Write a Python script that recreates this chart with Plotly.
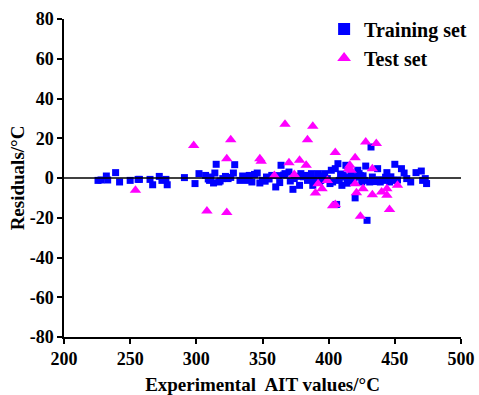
import plotly.graph_objects as go

train_x = [225.7, 228, 232, 233, 239, 242, 250, 256, 257, 265, 267, 272, 274, 277, 278,
           291, 299, 302, 307, 310, 313, 314, 315, 317, 320, 324, 328, 329, 333, 335,
           338, 340, 342, 346, 348, 350, 353, 357, 360, 363, 364, 367, 370, 373, 374,
           377, 378, 379, 382, 384, 387, 388, 392, 394, 397, 399, 401, 402, 405, 406,
           407, 408, 410, 412, 413, 415, 417, 418, 420, 421, 422, 423, 425, 427, 428,
           429, 431, 432, 433, 434, 437, 439, 441, 444, 446, 449, 450, 455, 457, 459,
           462, 466, 470, 471, 473, 474,
           311, 318, 326, 336, 344, 355, 362, 371, 381, 389, 396, 403, 411, 419, 426, 436, 443, 452,
           309, 322, 339, 352, 366, 385, 393, 409, 414, 424, 438, 447]
train_y = [-1.2, -1, 1, -1, 2.7, -2, -1.2, -0.7, -0.7, -0.7, -3.4, 0.8, -1.2, -0.7, -3.4,
           0.2, -2.8, 2.2, 1.3, -1.2, -2.5, 2.5, 6.9, -2, -0.3, -0.3, 2.5, 6.7, -1.2, 1,
           -1.2, 1.3, -2, 2.5, -2.5, -1.2, 0.5, 1.3, -4.5, -2.3, 6.4, 2.2, 3, -5.7, -0.3,
           0.8, -3.7, 2.2, 1.3, -1.2, 2.2, -3.7, 2.2, -1.2, 2.2, -0.3, -2.8, 3.9, 4.7, -13.3,
           7.2, -1.2, -3.7, 0.5, 6.4, -1.2, 2.2, -1.2, -10, 0.5, 3.9, 2.2, -2, -1.2, 6,
           -21.3, -2, 15.6, 0.5, -1.2, 4.7, -2, -1.2, 2.7, -2, -1.2, 6.9, 4.7, 2.5, -0.3,
           -2, 2.7, 3.5, -1.2, -0.3, -2.8,
           0.5, -1.5, 0.3, -0.8, 1.8, -0.5, 1.2, -1.5, 0.6, -0.8, 1.0, -2.0, 1.5, -0.6, 1.1, -1.8, 0.4, -1.0,
           -0.5, 0.8, 0.4, -1.6, 1.5, 0.9, -1.8, 2.0, -2.6, 1.2, -0.9, 0.6]

test_x = [254, 298, 308, 323, 323, 326, 348, 349, 359, 367, 370, 374, 378, 384, 383,
          388, 390, 392, 395, 399, 403, 405, 405, 415, 416, 417, 420, 420, 421, 424,
          426, 428, 433, 433, 436, 440, 444, 444, 446, 452]
test_y = [-6.2, 16.4, -16.6, 9.7, -17.4, 19.3, 9.7, 8.4, 1.3, 27, 7.7, 1.8, 8.9, 19.3, 6.4,
          26, -7.6, -2.9, -5.4, -1.2, -14, 12.8, -13.3, 4.7, 6.4, 3.9, 10.2, -2.9, -7.4, -19.3,
          -5.4, 18.1, -8.4, 4.7, 17.3, -7, -5.4, -8.7, -15.8, -3.7]

x_ticks = [200, 250, 300, 350, 400, 450, 500]
y_ticks = [-80, -60, -40, -20, 0, 20, 40, 60, 80]

font_family = "Liberation Serif, Times New Roman, serif"

fig = go.Figure()
fig.add_trace(go.Scatter(x=train_x, y=train_y, mode="markers", name="Training set",
                         marker=dict(symbol="square", size=7, color="#0000FF",
                                     line=dict(width=0))))
fig.add_trace(go.Scatter(x=test_x, y=test_y, mode="markers", name="Test set",
                         marker=dict(symbol="triangle-up", size=10, color="#FF00FF",
                                     line=dict(width=0))))

fig.add_shape(type="line", xref="x", yref="y", x0=200, x1=500, y0=0, y1=0,
              line=dict(color="black", width=1.5), layer="above")

fig.update_layout(
    width=479, height=395,
    margin=dict(l=64, r=18, t=19, b=58, autoexpand=False),
    paper_bgcolor="white", plot_bgcolor="white",
    font=dict(family=font_family, size=17, color="black"),
    showlegend=True,
    legend=dict(x=1.028, y=1.03, xanchor="right", yanchor="top",
                font=dict(family=font_family, size=20, color="black", weight="bold"),
                bgcolor="rgba(0,0,0,0)", itemsizing="constant", tracegroupgap=0),
    xaxis=dict(range=[200, 500], tickvals=x_ticks, ticktext=[str(v) for v in x_ticks],
               showgrid=False, zeroline=False, showline=True, linecolor="black", linewidth=1.5,
               ticks="outside", ticklen=5, tickwidth=1.5, tickcolor="black",
               tickfont=dict(family=font_family, size=18, weight="bold"),
               title=dict(text="Experimental  AIT values/°C",
                          font=dict(family=font_family, size=19, weight="bold"), standoff=16)),
    yaxis=dict(range=[-80, 80], tickvals=y_ticks, ticktext=[str(v) for v in y_ticks],
               showgrid=False, zeroline=False, showline=True, linecolor="black", linewidth=1.5,
               ticks="outside", ticklen=5, tickwidth=1.5, tickcolor="black",
               tickfont=dict(family=font_family, size=18, weight="bold"),
               title=dict(text="Residuals/°C",
                          font=dict(family=font_family, size=19, weight="bold"), standoff=0)),
)

fig.write_html("out.html", config={"displayModeBar": False},
               post_script="document.body.style.margin='0px';")
